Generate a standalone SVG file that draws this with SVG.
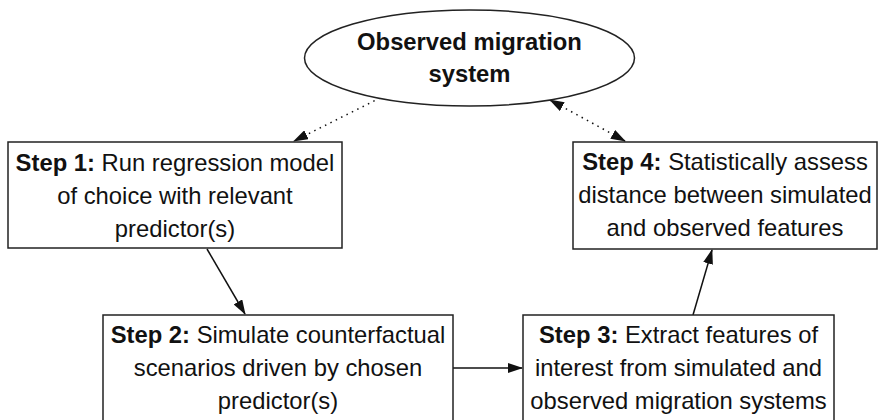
<svg xmlns="http://www.w3.org/2000/svg" width="879" height="420" viewBox="0 0 879 420">
<style>
.box{fill:#fff;stroke:#222;stroke-width:1.5}
.t{font-family:"Liberation Sans",Arial,sans-serif;font-size:23.8px;fill:#111;text-anchor:middle}
.b{font-weight:bold}
.c{stroke:#111;stroke-width:1.5;fill:none}
.d{stroke-dasharray:1.5 4.5}
</style>
<defs>
<marker id="ah" viewBox="0 0 15 10" refX="14" refY="5" markerWidth="15" markerHeight="10" markerUnits="userSpaceOnUse" orient="auto-start-reverse">
<path d="M0,0 L15,5 L0,10 Z" fill="#111"/>
</marker>
</defs>
<rect width="879" height="420" fill="#fff"/>
<g id="connectors">
<line class="c d" x1="380" y1="98" x2="294" y2="141" marker-end="url(#ah)"/>
<line class="c d" x1="550" y1="100" x2="625" y2="141" marker-start="url(#ah)" marker-end="url(#ah)"/>
<line class="c" x1="207" y1="249" x2="245" y2="314" marker-end="url(#ah)"/>
<line class="c" x1="453" y1="368" x2="522" y2="368" marker-end="url(#ah)"/>
<line class="c" x1="693" y1="315" x2="712" y2="250" marker-end="url(#ah)"/>
</g>
<g id="observed">
<ellipse class="box" cx="469.5" cy="58" rx="165" ry="48"/>
<text class="t b" x="469.5" y="50">Observed migration</text>
<text class="t b" x="469.5" y="82">system</text>
</g>
<g id="step1">
<rect class="box" x="8" y="142" width="334" height="106"/>
<text class="t" x="175" y="171"><tspan class="b">Step 1:</tspan> Run regression model</text>
<text class="t" x="175" y="204">of choice with relevant</text>
<text class="t" x="175" y="237">predictor(s)</text>
</g>
<g id="step4">
<rect class="box" x="573" y="142" width="304" height="107"/>
<text class="t" x="725" y="170"><tspan class="b">Step 4:</tspan> Statistically assess</text>
<text class="t" x="725" y="203">distance between simulated</text>
<text class="t" x="725" y="236">and observed features</text>
</g>
<g id="step2">
<rect class="box" x="103" y="315" width="350" height="120"/>
<text class="t" x="278" y="343"><tspan class="b">Step 2:</tspan> Simulate counterfactual</text>
<text class="t" x="278" y="376">scenarios driven by chosen</text>
<text class="t" x="278" y="409">predictor(s)</text>
</g>
<g id="step3">
<rect class="box" x="523" y="315" width="311" height="120"/>
<text class="t" x="678.5" y="343"><tspan class="b">Step 3:</tspan> Extract features of</text>
<text class="t" x="678.5" y="376">interest from simulated and</text>
<text class="t" x="678.5" y="409">observed migration systems</text>
</g>
</svg>
